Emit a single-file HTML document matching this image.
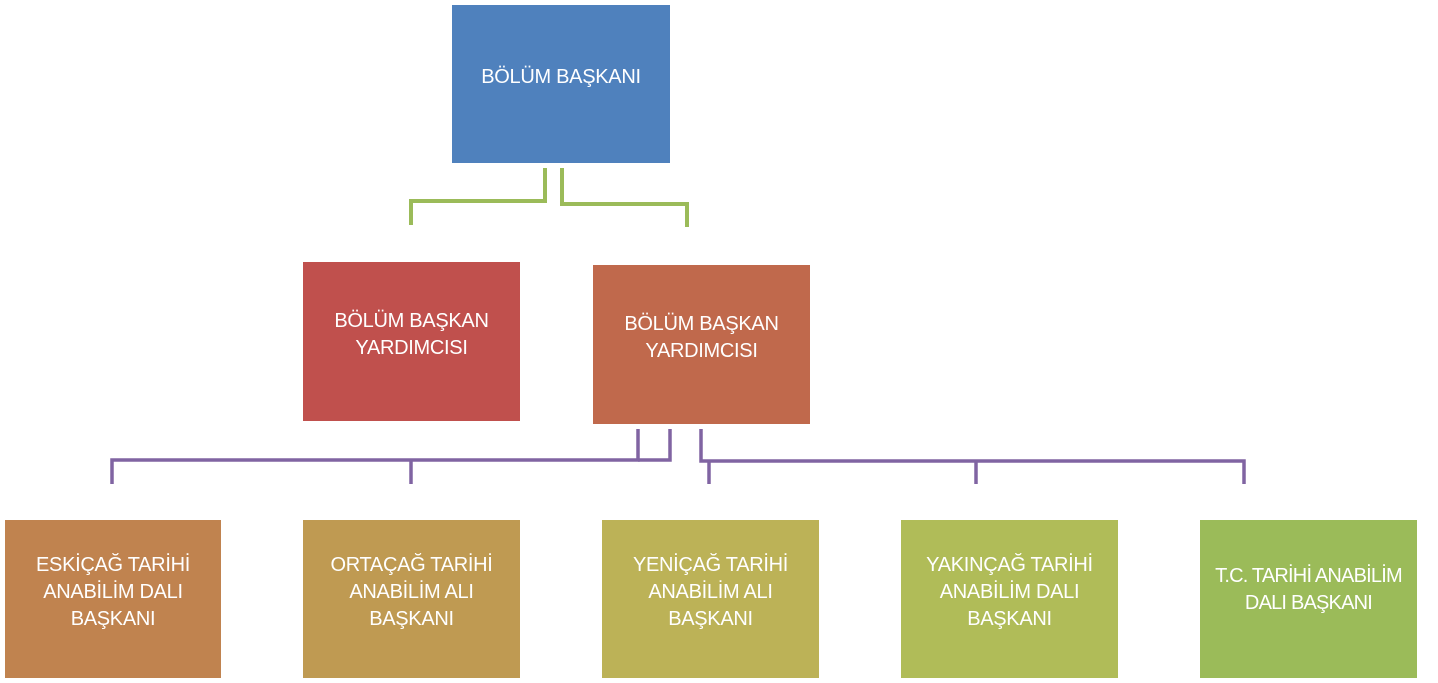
<!DOCTYPE html>
<html><head><meta charset="utf-8"><style>
html,body{margin:0;padding:0;width:1438px;height:683px;background:#fff;overflow:hidden;position:relative}
.b{position:absolute;display:flex;align-items:center;justify-content:center;text-align:center;color:#fff;font-family:"Liberation Sans",sans-serif;font-size:20px;line-height:27px;letter-spacing:-0.3px;white-space:nowrap;padding-bottom:14px;box-sizing:border-box}
svg{position:absolute;left:0;top:0}
</style></head><body>
<svg width="1438" height="683">
<g fill="none" stroke="#9bbb59" stroke-width="4">
<polyline points="545,168 545,201 411,201 411,225"/>
<polyline points="562,168 562,204 687,204 687,227"/>
</g>
<g fill="none" stroke="#8064a2" stroke-width="3.5">
<polyline points="638,429 638,460 112,460 112,484"/>
<polyline points="670,429 670,460 638,460"/>
<line x1="411" y1="460" x2="411" y2="484"/>
<polyline points="701,429 701,461 1244,461 1244,484"/>
<line x1="709" y1="461" x2="709" y2="484"/>
<line x1="976" y1="461" x2="976" y2="484"/>
</g>
</svg>
<div class="b" style="left:452px;top:5px;width:218px;height:158px;background:#4f81bd">BÖLÜM BAŞKANI</div>
<div class="b" style="left:303px;top:262px;width:217px;height:159px;background:#c0504d">BÖLÜM BAŞKAN<br>YARDIMCISI</div>
<div class="b" style="left:593px;top:265px;width:217px;height:159px;background:#c0694c">BÖLÜM BAŞKAN<br>YARDIMCISI</div>
<div class="b" style="left:5px;top:520px;width:216px;height:158px;background:#c0834f">ESKİÇAĞ TARİHİ<br>ANABİLİM DALI<br>BAŞKANI</div>
<div class="b" style="left:303px;top:520px;width:217px;height:158px;background:#bf9a52">ORTAÇAĞ TARİHİ<br>ANABİLİM ALI<br>BAŞKANI</div>
<div class="b" style="left:602px;top:520px;width:217px;height:158px;background:#bcb257">YENİÇAĞ TARİHİ<br>ANABİLİM ALI<br>BAŞKANI</div>
<div class="b" style="left:901px;top:520px;width:217px;height:158px;background:#b0bc58">YAKINÇAĞ TARİHİ<br>ANABİLİM DALI<br>BAŞKANI</div>
<div class="b" style="left:1200px;top:520px;width:217px;height:158px;background:#9bbb59;padding-bottom:18px;letter-spacing:-0.8px">T.C. TARİHİ ANABİLİM<br>DALI BAŞKANI</div>
</body></html>
